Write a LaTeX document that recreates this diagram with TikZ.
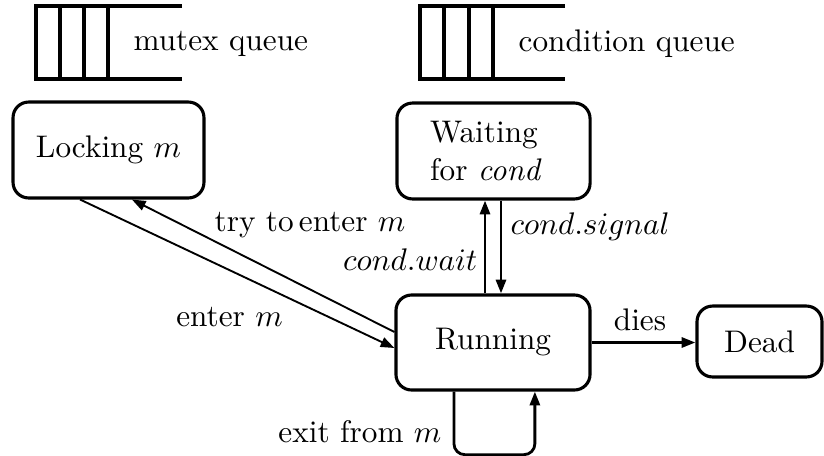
\documentclass[tikz,border=0pt]{standalone}
\usetikzlibrary{arrows.meta}
\begin{document}
\begin{tikzpicture}[x=0.32pt,y=-0.32pt,
  state/.style={draw,line width=1pt,rounded corners=5pt,inner sep=0pt},
  arr/.style={line width=0.9pt,-{Triangle[length=4.4pt,width=3.2pt]}},
  thinarr/.style={line width=0.6pt,-{Triangle[length=4.4pt,width=3.2pt]}},
  queue/.style={line width=1pt},
  lbl/.style={inner sep=0pt}]
\useasboundingbox (0,0) rectangle (824,455);

% mutex queue
\draw[queue] (182,6) -- (36,6) -- (36,79) -- (182,79);
\foreach \qx in {60,84,108} \draw[queue] (\qx,6) -- (\qx,79);
\node[lbl,anchor=west] (mq) at (133,44) {mutex queue};

% condition queue
\draw[queue] (565,6) -- (420,6) -- (420,79) -- (565,79);
\foreach \qx in {444,469,493} \draw[queue] (\qx,6) -- (\qx,79);
\node[lbl,anchor=west] (cq) at (518,44) {condition queue};

% states
\node[state,minimum width=61.1pt,minimum height=30.7pt] (lock) at (108.5,150) {Locking $m$};
\node[state,minimum width=61.8pt,minimum height=30.7pt,text width=40.6pt,align=left] (wait) at (493.5,151) {Waiting\\for \textit{cond}};
\node[state,minimum width=62.1pt,minimum height=30.4pt] (run) at (493,342.5) {Running};
\node[state,minimum width=40pt,minimum height=22.7pt] (dead) at (759.5,341.5) {Dead};

% transitions
\draw[thinarr] ([yshift=3.36pt]run.west) -- ([xshift=7.5pt]lock.south);
\draw[thinarr] ([xshift=-9.1pt]lock.south) -- ([yshift=-1.76pt]run.west);
\draw[arr] ([xshift=-2.56pt]run.north) -- ([xshift=-2.72pt]wait.south);
\draw[arr] ([xshift=2.4pt]wait.south) -- ([xshift=2.56pt]run.north);
\draw[arr] (run.east) -- (run.east -| dead.west);
\draw[arr,rounded corners=3.5pt] ([xshift=-12.5pt]run.south) -- ++(0,-20.2pt) -| ([xshift=13.4pt]run.south);

% labels
\node[lbl] (ltry) at (310,225) {try to\,enter $m$};
\node[lbl] (lenter) at (229.5,317) {enter $m$};
\node[lbl,anchor=west] (lsig) at (510,227) {$cond.signal$};
\node[lbl,anchor=east] (lwait) at (478,260) {$cond.wait$};
\node[lbl] (ldies) at (640,320) {dies};
\node[lbl,anchor=east] (lexit) at (442,432) {exit from $m$};
\end{tikzpicture}
\end{document}
